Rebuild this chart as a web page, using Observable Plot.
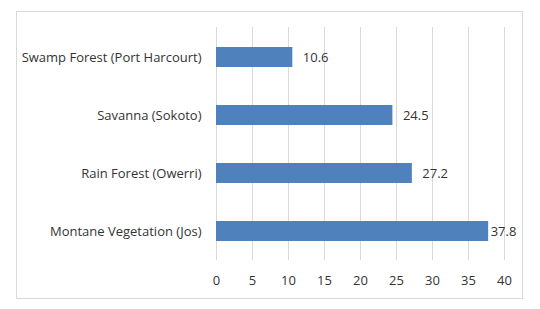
<!DOCTYPE html>
<html>
<head>
<meta charset="utf-8">
<script src="https://cdn.jsdelivr.net/npm/d3@7"></script>
<script src="https://cdn.jsdelivr.net/npm/@observablehq/plot@0.6"></script>
<style>
  html, body { margin: 0; padding: 0; background: #fff; }
  #wrap { position: relative; width: 540px; height: 309px; }
  #border { position: absolute; left: 16px; top: 11px; width: 505px; height: 286px; border: 1px solid #d9d9d9; }
  #chart { position: absolute; left: 0; top: 0; }
</style>
</head>
<body>
<div id="wrap"><div id="border"></div><div id="chart"></div></div>
<script>
const categories = ["Swamp Forest (Port Harcourt)", "Savanna (Sokoto)", "Rain Forest (Owerri)", "Montane Vegetation (Jos)"];
const values = [10.6, 24.5, 27.2, 37.8];
const xTicks = [0, 5, 10, 15, 20, 25, 30, 35, 40];

const data = categories.map((c, i) => ({category: c, value: values[i]}));

const chart = Plot.plot({
  width: 540,
  height: 309,
  marginLeft: 216,
  marginRight: 36,
  marginTop: 27,
  marginBottom: 49,
  style: {fontFamily: "'Open Sans', sans-serif", fontSize: "13px", color: "#333333", background: "transparent"},
  x: {domain: [0, 40], ticks: xTicks, label: null, tickSize: 0, tickPadding: 15, grid: false},
  y: {domain: categories, padding: 0, label: null, tickSize: 0, tickPadding: 15},
  marks: [
    Plot.gridX(xTicks, {stroke: "#d9d9d9", strokeOpacity: 1, strokeWidth: 1}),
    Plot.barX(data, {x: "value", y: "category", fill: "#4f81bd", insetTop: 19, insetBottom: 19}),
    Plot.text(data.filter(d => d.value < 35), {x: "value", y: "category", text: d => d.value.toFixed(1), textAnchor: "start", dx: 10, fill: "#333333", fontSize: 13}),
    Plot.text(data.filter(d => d.value >= 35), {x: "value", y: "category", text: d => d.value.toFixed(1), textAnchor: "start", dx: 2, fill: "#333333", fontSize: 13})
  ]
});
document.getElementById("chart").appendChild(chart);
</script>
</body>
</html>
